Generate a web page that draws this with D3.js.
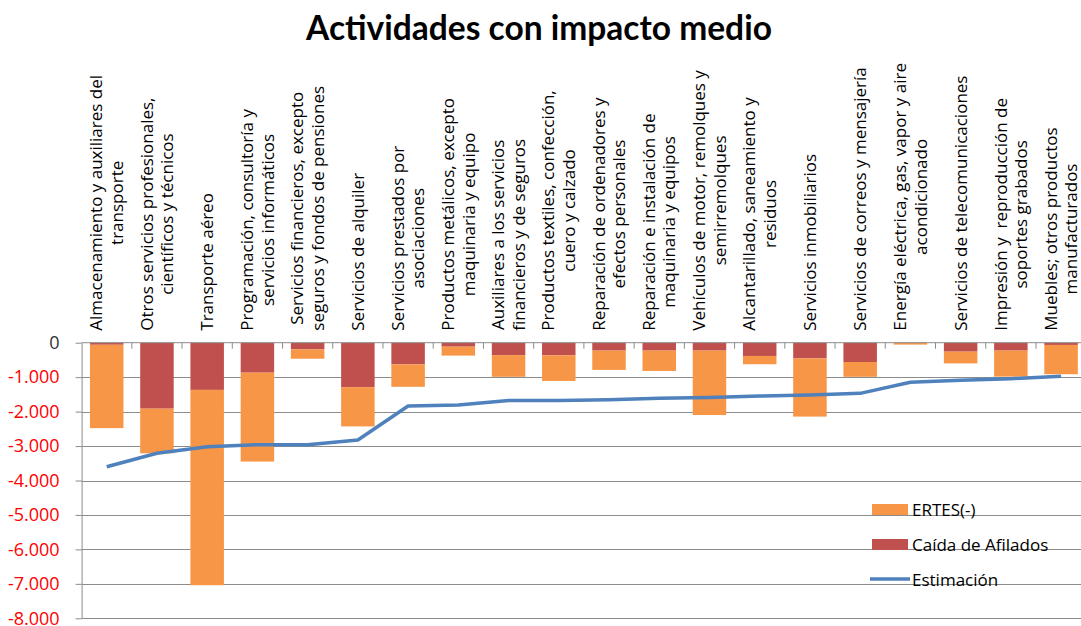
<!DOCTYPE html>
<html>
<head>
<meta charset="utf-8">
<script src="https://cdn.jsdelivr.net/npm/d3@7"></script>
<style>
body { margin: 0; background: #fff; }
text { font-family: "Open Sans", sans-serif; }
</style>
</head>
<body>
<div id="vis"></div>
<script>
var width = 1081,
	height = 626;

// categorias (cada entrada = lineas de la etiqueta)
var categorias = [
	["Almacenamiento y auxiliares del", "transporte"],
	["Otros servicios profesionales,", "científicos y técnicos"],
	["Transporte aéreo"],
	["Programación, consultoría y", "servicios informáticos"],
	["Servicios financieros, excepto", "seguros y fondos de pensiones"],
	["Servicios de alquiler"],
	["Servicios prestados por", "asociaciones"],
	["Productos metálicos, excepto", "maquinaria y equipo"],
	["Auxiliares a los servicios", "financieros y de seguros"],
	["Productos textiles, confección,", "cuero y calzado"],
	["Reparación de ordenadores y", "efectos personales"],
	["Reparación e instalación de", "maquinaria y equipos"],
	["Vehículos de motor, remolques y", "semirremolques"],
	["Alcantarillado, saneamiento y", "residuos"],
	["Servicios inmobiliarios"],
	["Servicios de correos y mensajería"],
	["Energía eléctrica, gas, vapor y aire", "acondicionado"],
	["Servicios de telecomunicaciones"],
	["Impresión y  reproducción de", "soportes grabados"],
	["Muebles; otros productos", "manufacturados"]
];

var caidaAfiliados = [-60, -1915, -1370, -870, -195, -1290, -630, -115, -360, -365, -230, -230, -230, -385, -455, -560, -10, -260, -230, -65];
var ertes = [-2420, -1295, -5670, -2580, -270, -1140, -650, -260, -630, -745, -560, -590, -1870, -240, -1690, -430, -45, -340, -755, -850];
var estimacion = [-3600, -3210, -3020, -2960, -2960, -2825, -1837, -1808, -1675, -1675, -1655, -1610, -1588, -1548, -1515, -1470, -1150, -1090, -1044, -977];

var yTicks = [0, -1000, -2000, -3000, -4000, -5000, -6000, -7000, -8000];

var leyenda = ["ERTES(-)", "Caída de Afilados", "Estimación"];

var naranja = "#F79646",
	rojo = "#C0504D",
	azul = "#4F81BD",
	gris = "#8C8C8C";

var svg = d3.select('#vis')
	.append('svg')
	.attr('width', width)
	.attr('height', height)
	.style('display', 'block');

svg.append('rect').attr('width', width).attr('height', height).attr('fill', '#fff');

var x = d3.scaleBand()
	.domain(d3.range(categorias.length))
	.range([81.6, 1086.2])
	.paddingInner(1 / 3)
	.paddingOuter(1 / 6);

var y = d3.scaleLinear()
	.domain([-8000, 0])
	.range([618.3, 342.7]);

var es = d3.formatLocale({decimal: ",", thousands: ".", grouping: [3], currency: ["", "€"], minus: "-"});
var fmt = es.format(",");

// titulo
svg.append('text')
	.attr('x', 539)
	.attr('y', 40)
	.attr('text-anchor', 'middle')
	.style('font-family', 'Lato, sans-serif')
	.style('font-size', '33.5px')
	.style('font-weight', 'bold')
	.text("Actividades con impacto medio");

// gridlines
svg.append('g')
	.selectAll('line')
	.data(yTicks.slice(1))
	.enter()
	.append('line')
	.attr('x1', 81.6)
	.attr('x2', width)
	.attr('y1', function(d) { return Math.round(y(d)) + 0.5; })
	.attr('y2', function(d) { return Math.round(y(d)) + 0.5; })
	.style('stroke', gris)
	.style('stroke-width', 1);

// barras apiladas
var barras = svg.append('g');

barras.selectAll('rect.caida')
	.data(caidaAfiliados)
	.enter()
	.append('rect')
	.attr('class', 'caida')
	.attr('x', function(d, i) { return x(i); })
	.attr('width', x.bandwidth())
	.attr('y', y(0))
	.attr('height', function(d) { return y(d) - y(0); })
	.attr('fill', rojo);

barras.selectAll('rect.ertes')
	.data(ertes)
	.enter()
	.append('rect')
	.attr('class', 'ertes')
	.attr('x', function(d, i) { return x(i); })
	.attr('width', x.bandwidth())
	.attr('y', function(d, i) { return y(caidaAfiliados[i]); })
	.attr('height', function(d, i) { return y(caidaAfiliados[i] + d) - y(caidaAfiliados[i]); })
	.attr('fill', naranja);

// eje y
var yAxis = svg.append('g')
	.attr('transform', 'translate(81.6,0)')
	.call(d3.axisLeft(y).tickValues(yTicks).tickSize(6).tickSizeOuter(0).tickPadding(16).tickFormat(fmt));

yAxis.select('.domain').style('stroke', gris);
yAxis.selectAll('.tick line').style('stroke', gris);
yAxis.selectAll('.tick text')
	.style('font-size', '18px')
	.style('font-family', '"Open Sans", sans-serif')
	.attr('fill', function(d) { return d < 0 ? '#FF0000' : '#333'; });

// eje x (linea del cero + marcas entre categorias)
svg.append('line')
	.attr('x1', 81.6)
	.attr('x2', width)
	.attr('y1', y(0))
	.attr('y2', y(0))
	.style('stroke', gris);

svg.append('g')
	.selectAll('line')
	.data(d3.range(1, categorias.length + 1))
	.enter()
	.append('line')
	.attr('x1', function(i) { return x.range()[0] + i * x.step(); })
	.attr('x2', function(i) { return x.range()[0] + i * x.step(); })
	.attr('y1', y(0))
	.attr('y2', y(0) + 6)
	.style('stroke', gris);

// linea de estimacion
var linea = d3.line()
	.x(function(d, i) { return x(i) + x.bandwidth() / 2; })
	.y(function(d) { return y(d); });

svg.append('path')
	.datum(estimacion)
	.attr('d', linea)
	.attr('fill', 'none')
	.style('stroke', azul)
	.style('stroke-width', 3.5)
	.style('stroke-linejoin', 'round');

// etiquetas de categoria (rotadas)
var lh = 20.5;
var etiquetas = svg.append('g')
	.selectAll('g')
	.data(categorias)
	.enter()
	.append('g')
	.attr('transform', function(d, i) {
		return 'translate(' + (x(i) + x.bandwidth() / 2) + ',' + (y(0) - 12) + ') rotate(-90)';
	});

etiquetas.each(function(lineas) {
	var t = d3.select(this).append('text')
		.attr('text-anchor', 'middle')
		.style('font-size', '17px')
		.style('white-space', 'pre')
		.attr('fill', '#000');
	var spans = t.selectAll('tspan')
		.data(lineas)
		.enter()
		.append('tspan')
		.attr('y', function(d, i) { return (i - (lineas.length - 1) / 2) * lh; })
		.attr('dy', '0.35em')
		.text(function(d) { return d; });
	var maxW = 0;
	spans.each(function() { maxW = Math.max(maxW, this.getComputedTextLength()); });
	spans.attr('x', maxW / 2);
});

// leyenda
var ley = svg.append('g').attr('transform', 'translate(872,510)');

ley.append('rect').attr('x', 0).attr('y', -6).attr('width', 36).attr('height', 11).attr('fill', naranja);
ley.append('rect').attr('x', 0).attr('y', 29).attr('width', 36).attr('height', 11).attr('fill', rojo);
ley.append('line').attr('x1', -2).attr('x2', 38).attr('y1', 69).attr('y2', 69)
	.style('stroke', azul).style('stroke-width', 3.5);

ley.selectAll('text')
	.data(leyenda)
	.enter()
	.append('text')
	.attr('x', 40)
	.attr('y', function(d, i) { return i * 35; })
	.attr('dy', '0.35em')
	.style('font-size', '17px')
	.text(function(d) { return d; });
</script>
</body>
</html>
